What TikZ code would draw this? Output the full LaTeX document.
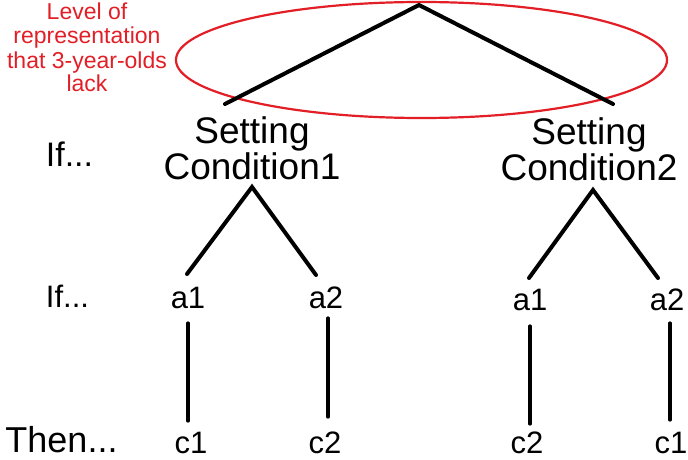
\documentclass[tikz,border=0pt]{standalone}
\usepackage{fontspec}
\setmainfont{Liberation Sans}
\definecolor{redmark}{RGB}{226,30,38}
\begin{document}
\begin{tikzpicture}[x=1pt,y=-1pt,
  lbl/.style={inner sep=0pt,anchor=base,text=black},
  leaf/.style={lbl,font=\fontsize{31}{31}\selectfont},
  cond/.style={inner sep=0pt,anchor=base,align=center,font=\fontsize{37}{30}\selectfont},
  branch/.style={line width=4pt,line cap=round},
  stem/.style={line width=3.2pt,line cap=round},
  ring/.style={draw=redmark,line width=2.2pt}]
\useasboundingbox (0,0) rectangle (688,460);
% red annotation
\node[inner sep=0pt,anchor=base,align=center,text=redmark,
      font=\fontsize{23}{24}\selectfont] (lvl) at (87,92)
  {Level of\\representation\\that 3-year-olds\\lack};
\draw[ring] (421.5,60) ellipse [x radius=245.5, y radius=58];
% row labels
\node[lbl,font=\fontsize{34}{34}\selectfont] (if1) at (69.5,166) {If...};
\node[lbl,font=\fontsize{31}{31}\selectfont] (if2) at (67.5,307) {If...};
\node[lbl,font=\fontsize{36}{36}\selectfont] (then) at (61.5,452) {Then...};
% setting conditions
\node[cond] (sc1) at (252,179) {Setting\\Condition1};
\node[cond] (sc2) at (589,180) {Setting\\Condition2};
% top
\coordinate (top) at (419,5);
\coordinate (t1) at (225,104);
\coordinate (t2) at (613,104);
\draw[branch] (t1) -- (top) -- (t2);
% lower apexes
\coordinate (s1) at (252,187);
\coordinate (s2) at (593,190);
% actions
\node[leaf] (a1L) at (188,308) {a1};
\node[leaf] (a2L) at (326,308) {a2};
\node[leaf] (a1R) at (530,310) {a1};
\node[leaf] (a2R) at (667,310) {a2};
% consequences
\node[leaf] (c1L) at (191,453) {c1};
\node[leaf] (c2L) at (325,453) {c2};
\node[leaf] (c2R) at (527,453.5) {c2};
\node[leaf] (c1R) at (671,453) {c1};
% branches
\coordinate (e1) at (187,274);
\coordinate (e2) at (316,275);
\coordinate (e3) at (529,278);
\coordinate (e4) at (658,278);
\draw[branch] (e1) -- (s1) -- (e2);
\draw[branch] (e3) -- (s2) -- (e4);
% stems
\draw[stem] (188,323) coordinate (v1a) -- (188,421) coordinate (v1b);
\draw[stem] (328,318) coordinate (v2a) -- (328,417) coordinate (v2b);
\draw[stem] (530,326) coordinate (v3a) -- (530,424) coordinate (v3b);
\draw[stem] (670,323) coordinate (v4a) -- (670,420) coordinate (v4b);
\end{tikzpicture}
\end{document}
